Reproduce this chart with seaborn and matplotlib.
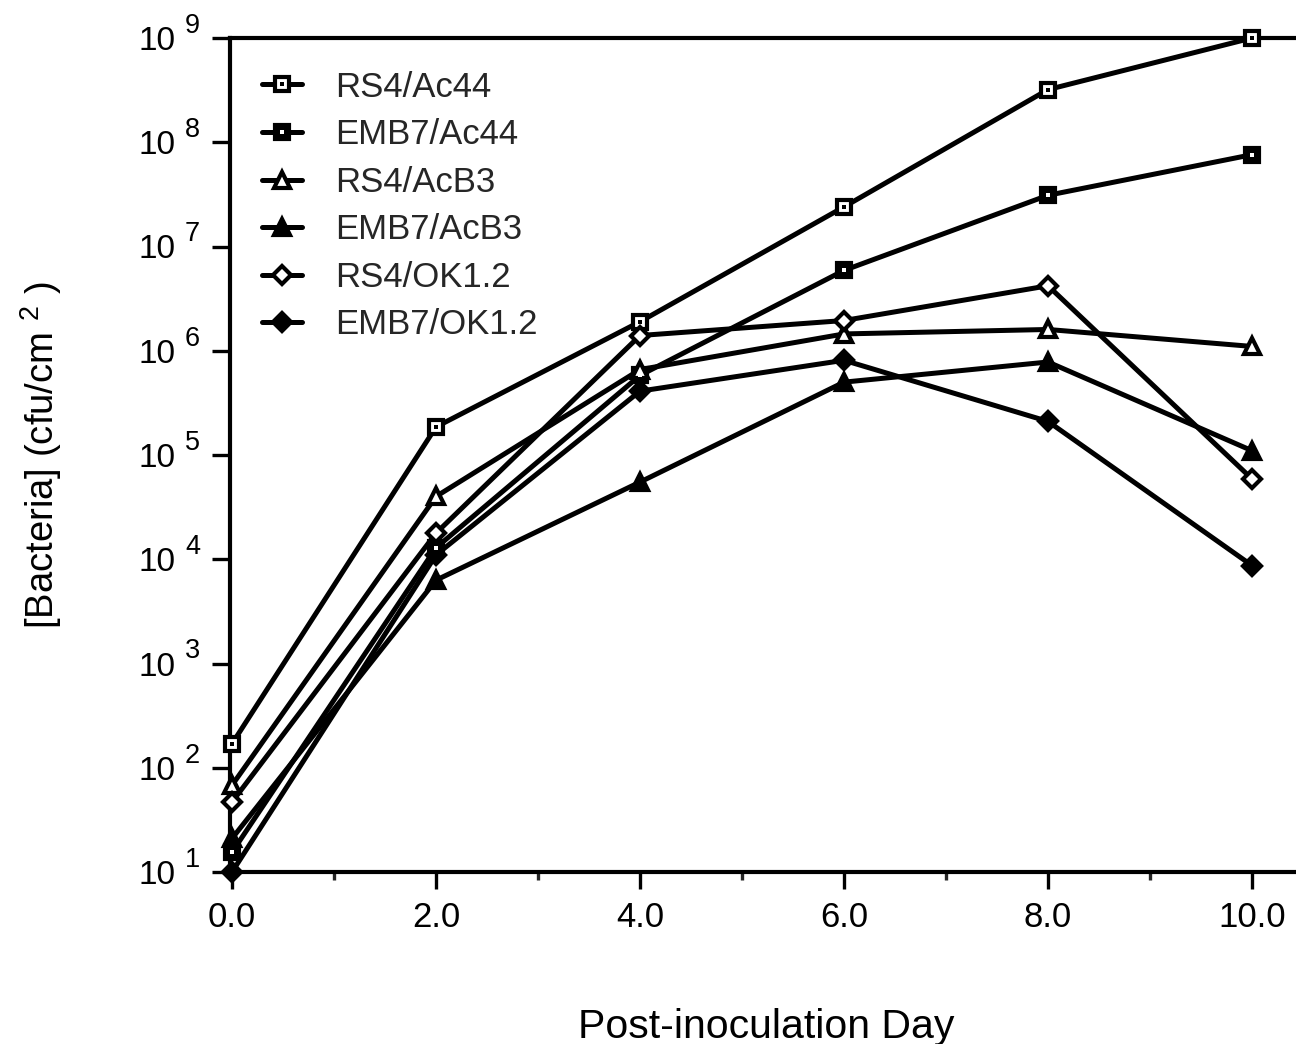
import matplotlib
matplotlib.use("Agg")
import matplotlib.pyplot as plt
import matplotlib.transforms as mtransforms
from matplotlib.legend_handler import HandlerTuple
import seaborn as sns
import pandas as pd

# ---------------- data ----------------
days = [0, 2, 4, 6, 8, 10]
series_names = ["RS4/Ac44", "EMB7/Ac44", "RS4/AcB3", "EMB7/AcB3", "RS4/OK1.2", "EMB7/OK1.2"]
rs4_ac44 = [170, 1.86e5, 1.9e6, 2.4e7, 3.2e8, 1.0e9]
emb7_ac44 = [15.5, 1.29e4, 5.8e5, 5.9e6, 3.1e7, 7.6e7]
rs4_acb3 = [68, 4.0e4, 6.6e5, 1.45e6, 1.6e6, 1.1e6]
emb7_acb3 = [21, 6.3e3, 5.5e4, 5.0e5, 7.8e5, 1.1e5]
rs4_ok12 = [47, 1.78e4, 1.4e6, 1.95e6, 4.2e6, 5.9e4]
emb7_ok12 = [10, 1.1e4, 4.1e5, 8.1e5, 2.1e5, 8.7e3]
series_values = [rs4_ac44, emb7_ac44, rs4_acb3, emb7_acb3, rs4_ok12, emb7_ok12]
xtick_values = [0, 2, 4, 6, 8, 10]
xtick_labels = ["0.0", "2.0", "4.0", "6.0", "8.0", "10.0"]
ytick_exponents = [1, 2, 3, 4, 5, 6, 7, 8, 9]

# ---------------- style ----------------
sns.set_style("ticks")
plt.rcParams["font.family"] = ["Liberation Sans", "DejaVu Sans"]
plt.rcParams["mathtext.fontset"] = "custom"
plt.rcParams["mathtext.rm"] = "Liberation Sans"

fig = plt.figure(figsize=(12.96, 10.44), dpi=100)
fig.patch.set_facecolor("white")
ax = fig.add_axes([230 / 1296, 1 - 872 / 1044, 1073 / 1296, 834 / 1044])
ax.set_facecolor("white")

styles = {
    "RS4/Ac44": dict(marker="s", mfc="white", ms=10.5),
    "EMB7/Ac44": dict(marker="s", mfc="black", ms=10.5),
    "RS4/AcB3": dict(marker="^", mfc="white", ms=11.5),
    "EMB7/AcB3": dict(marker="^", mfc="black", ms=11.5),
    "RS4/OK1.2": dict(marker="D", mfc="white", ms=9),
    "EMB7/OK1.2": dict(marker="D", mfc="black", ms=9),
}
centers = {
    "RS4/Ac44": dict(marker="s", color="black", ms=2.8),
    "EMB7/Ac44": dict(marker="s", color="white", ms=2.8),
}

handles = []
for name, vals in zip(series_names, series_values):
    df = pd.DataFrame({"day": days, "cfu": vals})
    st = styles[name]
    sns.lineplot(data=df, x="day", y="cfu", ax=ax, color="black", linewidth=3.6,
                 marker=st["marker"], markersize=st["ms"], markerfacecolor=st["mfc"],
                 markeredgecolor="black", markeredgewidth=3.0, clip_on=False, zorder=3)
    main_line = ax.lines[-1]
    h = main_line
    if name in centers:
        c = centers[name]
        ln, = ax.plot(days, vals, linestyle="none", marker=c["marker"], markersize=c["ms"],
                      markerfacecolor=c["color"], markeredgecolor=c["color"],
                      markeredgewidth=0, clip_on=False, zorder=4)
        h = (main_line, ln)
    handles.append(h)

ax.set_yscale("log")
ax.set_ylim(10, 1e9)
ax.set_xlim(-0.02, 10.5)

ax.set_xticks(xtick_values)
ax.set_xticklabels(xtick_labels)
ax.set_xticks([1, 3, 5, 7, 9], minor=True)
ax.set_yticks([10.0 ** k for k in ytick_exponents])
ax.set_yticklabels(["10" for _ in ytick_exponents])
ax.yaxis.set_minor_locator(matplotlib.ticker.NullLocator())

ax.tick_params(axis="x", which="major", direction="out", length=12, width=2.4,
               labelsize=25, pad=9, colors="black")
ax.tick_params(axis="x", which="minor", direction="out", length=6, width=2.4)
ax.tick_params(axis="y", which="major", direction="out", length=13, width=2.4,
               labelsize=24, pad=26, colors="black")

trans = mtransforms.blended_transform_factory(ax.transAxes, ax.transData)
for k in ytick_exponents:
    ax.text(-0.0419, 10.0 ** k * 1.12, str(k), transform=trans, ha="left", va="baseline",
            fontsize=19.5, color="black")

for sp in ax.spines.values():
    sp.set_linewidth(3)
    sp.set_color("black")

ax.set_xlabel("Post-inoculation Day", fontsize=29.5, color="black")
ax.xaxis.set_label_coords(0.5, -0.163)
ax.set_ylabel(r"[Bacteria] (cfu/cm $^{2}$ )", fontsize=27.5, color="black")
ax.yaxis.set_label_coords(-0.155, 0.5)

leg = ax.legend(handles, series_names, loc="upper left", bbox_to_anchor=(0.03, 0.961),
                frameon=False, fontsize=25, handlelength=1.15, handletextpad=0.95,
                labelspacing=0.42, borderpad=0, borderaxespad=0,
                handler_map={tuple: HandlerTuple(ndivide=1)})

fig.savefig("out.png", dpi=100, facecolor="white")
